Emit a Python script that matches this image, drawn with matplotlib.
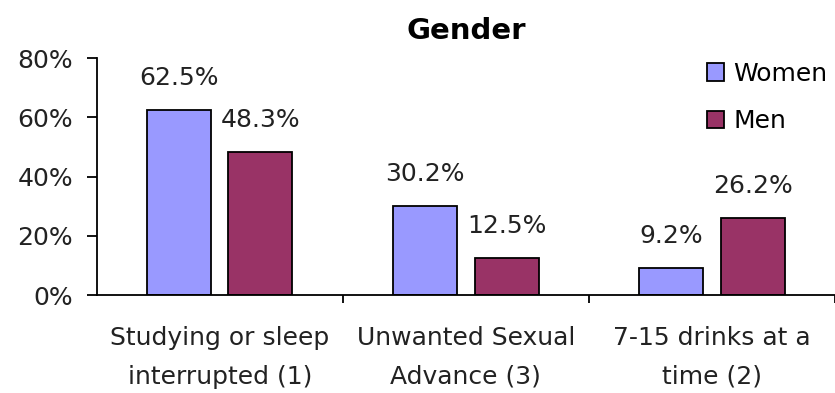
import numpy as np
import matplotlib.pyplot as plt

categories = ["Studying or sleep\ninterrupted (1)", "Unwanted Sexual\nAdvance (3)", "7-15 drinks at a\ntime (2)"]
women = [62.5, 30.2, 9.2]
men = [48.3, 12.5, 26.2]
yticks = [0, 20, 40, 60, 80]

plt.rcParams['font.family'] = ['DejaVu Sans']
fs = 18

fig = plt.figure(figsize=(8.35, 3.93), dpi=100)
ax = fig.add_axes([0.116, 0.249, 0.884, 0.603])

x = np.arange(len(categories))
w = 0.26
ax.bar(x - 0.165, women, w, color='#9999FF', edgecolor='black', linewidth=1.3, label='Women')
ax.bar(x + 0.165, men, w, color='#993366', edgecolor='black', linewidth=1.3, label='Men')

# value labels above bars
for i in range(len(categories)):
    ax.annotate(f"{women[i]}%", (x[i] - 0.165, women[i]), xytext=(0, 23), textcoords='offset points',
                ha='center', va='center', fontsize=fs, color='#222222')
    ax.annotate(f"{men[i]}%", (x[i] + 0.165, men[i]), xytext=(0, 23), textcoords='offset points',
                ha='center', va='center', fontsize=fs, color='#222222')

ax.set_xlim(-0.5, 2.5)
ax.set_ylim(0, 80)
ax.set_yticks(yticks)
ax.set_yticklabels([f"{t}%" for t in yticks], fontsize=fs, color='#222222')

# category labels between boundary ticks
ax.set_xticks(x)
ax.set_xticklabels(categories, fontsize=fs, color='#222222', linespacing=1.8)
ax.tick_params(axis='x', length=0, pad=22)
ax.set_xticks([0.5, 1.5, 2.5], minor=True)
ax.tick_params(axis='x', which='minor', length=6, width=1.3, direction='out')
ax.tick_params(axis='y', length=7, width=1.3, direction='out', pad=10)

ax.spines['top'].set_visible(False)
ax.spines['right'].set_visible(False)
ax.spines['left'].set_linewidth(1.3)
ax.spines['bottom'].set_linewidth(1.3)

ax.set_title("Gender", fontsize=21, fontweight='bold', pad=14)

ax.legend(loc='upper right', bbox_to_anchor=(1.02, 1.08), frameon=False, fontsize=fs,
          handlelength=0.7, handleheight=0.7, handletextpad=0.35, labelspacing=0.95)

fig.savefig("out.png", dpi=100)
